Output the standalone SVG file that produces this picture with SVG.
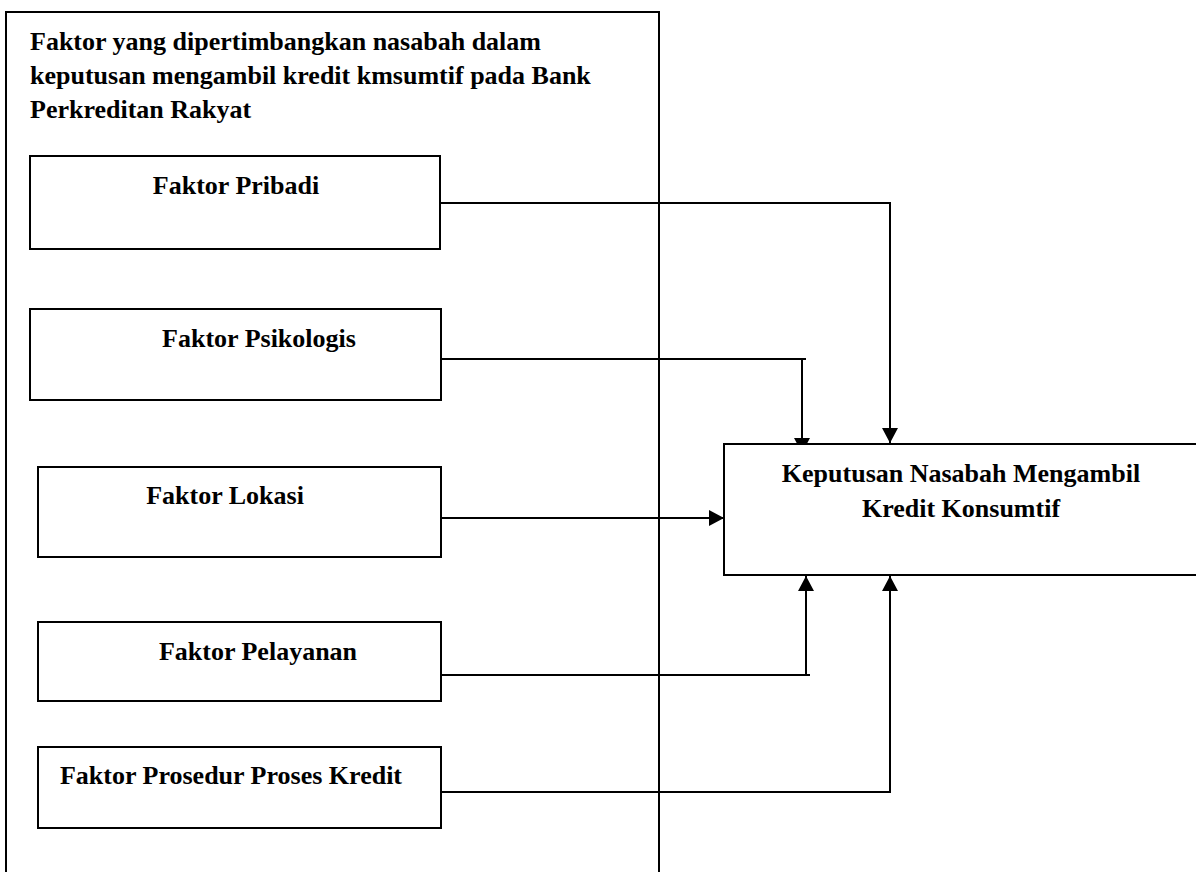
<svg xmlns="http://www.w3.org/2000/svg" width="1196" height="872" viewBox="0 0 1196 872">
<style>
.box{fill:#fff;stroke:#000;stroke-width:2}
.t{font-family:"Liberation Serif","Times New Roman",serif;font-weight:bold;font-size:26px;fill:#000}
.c{text-anchor:middle}
.ln{fill:none;stroke:#000;stroke-width:2}
</style>
<defs>
<marker id="ahs" viewBox="0 0 15 16" markerWidth="15" markerHeight="16" refX="15" refY="8" orient="auto" markerUnits="userSpaceOnUse">
<path d="M0,0 L15,8 L0,16 Z" fill="#000"/>
</marker>
</defs>
<rect width="1196" height="872" fill="#fff"/>
<g id="outer">
<path class="ln" d="M6,880 L6,12 L659,12 L659,880"/>
<text class="t" x="30" y="50">Faktor yang dipertimbangkan nasabah dalam</text>
<text class="t" x="30" y="84">keputusan mengambil kredit kmsumtif pada Bank</text>
<text class="t" x="30" y="118">Perkreditan Rakyat</text>
</g>
<g id="connectors">
<path class="ln" d="M440,203 L890,203 L890,443" marker-end="url(#ahs)"/>
<path class="ln" d="M441,359 L806,359"/>
<path class="ln" d="M802,359 L802,453" marker-end="url(#ahs)"/>
<path class="ln" d="M441,518 L724,518" marker-end="url(#ahs)"/>
<path class="ln" d="M441,675 L810,675"/>
<path class="ln" d="M806,675 L806,576" marker-end="url(#ahs)"/>
<path class="ln" d="M441,792 L890,792 L890,576" marker-end="url(#ahs)"/>
</g>
<g id="n-pribadi">
<rect class="box" x="30" y="156" width="410" height="93"/>
<text class="t c" x="236" y="194">Faktor Pribadi</text>
</g>
<g id="n-psikologis">
<rect class="box" x="30" y="309" width="411" height="91"/>
<text class="t c" x="259" y="347">Faktor Psikologis</text>
</g>
<g id="n-lokasi">
<rect class="box" x="38" y="467" width="403" height="90"/>
<text class="t c" x="225" y="504">Faktor Lokasi</text>
</g>
<g id="n-pelayanan">
<rect class="box" x="38" y="622" width="403" height="79"/>
<text class="t c" x="258" y="660">Faktor Pelayanan</text>
</g>
<g id="n-prosedur">
<rect class="box" x="38" y="747" width="403" height="81"/>
<text class="t c" x="231" y="784">Faktor Prosedur Proses Kredit</text>
</g>
<g id="n-keputusan">
<rect class="box" x="724" y="444" width="490" height="131"/>
<text class="t c" x="961" y="482">Keputusan Nasabah Mengambil</text>
<text class="t c" x="961" y="517">Kredit Konsumtif</text>
</g>
</svg>
